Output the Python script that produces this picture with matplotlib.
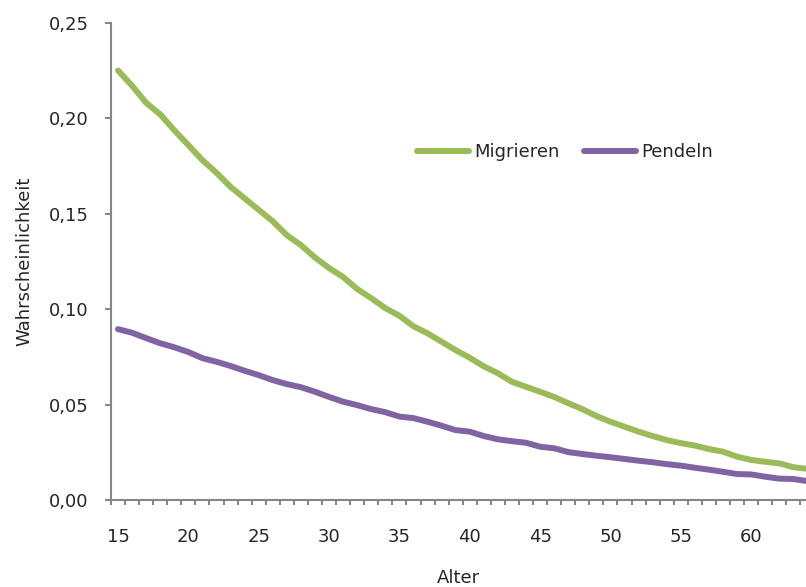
import matplotlib.pyplot as plt
import numpy as np
from matplotlib.ticker import FuncFormatter, MultipleLocator

plt.rcParams["font.family"] = ["DejaVu Sans"]

ages = np.arange(15, 65)
migrieren = [
    0.225, 0.217, 0.208, 0.202, 0.1937, 0.1859, 0.178, 0.1714, 0.164, 0.158,
    0.152, 0.146, 0.1387, 0.1335, 0.127, 0.1215, 0.1168, 0.1105, 0.1057, 0.1005,
    0.0965, 0.091, 0.0873, 0.0829, 0.0785, 0.0745, 0.070, 0.0664, 0.0619, 0.0593,
    0.0567, 0.054, 0.0507, 0.0476, 0.044, 0.041, 0.0384, 0.0358, 0.0335, 0.0314,
    0.0298, 0.0285, 0.0267, 0.0253, 0.0227, 0.021, 0.020, 0.0192, 0.0172, 0.0163,
]
pendeln = [
    0.0895, 0.0876, 0.0848, 0.0821, 0.080, 0.0775, 0.0743, 0.0724, 0.0702, 0.0677,
    0.0654, 0.0628, 0.0607, 0.0591, 0.0567, 0.054, 0.0515, 0.0497, 0.0476, 0.046,
    0.0437, 0.0429, 0.041, 0.0389, 0.0366, 0.0358, 0.0335, 0.0318, 0.0308, 0.030,
    0.0279, 0.0271, 0.0251, 0.0241, 0.0232, 0.0224, 0.0215, 0.0206, 0.0198, 0.0188,
    0.018, 0.0169, 0.0159, 0.0148, 0.0136, 0.0134, 0.0122, 0.0112, 0.011, 0.0099,
]

GREEN = "#9BBB59"
PURPLE = "#8064A2"
AXIS = "#868686"
TEXT = "#262626"
FS = 13

fig = plt.figure(figsize=(8.06, 5.87), dpi=100)
ax = fig.add_axes([0.1377, 0.1482, 0.8623, 0.8131])

ax.plot(ages, migrieren, color=GREEN, lw=4.3, solid_capstyle="round", label="Migrieren")
ax.plot(ages, pendeln, color=PURPLE, lw=4.3, solid_capstyle="round", label="Pendeln")

ax.set_xlim(14.5, 63.9)
ax.set_ylim(0, 0.25)

for side in ("top", "right"):
    ax.spines[side].set_visible(False)
for side in ("left", "bottom"):
    ax.spines[side].set_color(AXIS)
    ax.spines[side].set_linewidth(1.5)

ax.yaxis.set_major_locator(MultipleLocator(0.05))
ax.yaxis.set_major_formatter(FuncFormatter(lambda v, p: f"{v:.2f}".replace(".", ",")))
ax.tick_params(axis="y", length=4.5, width=1.5, color=AXIS, pad=11.5,
               labelsize=FS, labelcolor=TEXT)

# category axis: ticks between years, labels every 5 years
ax.set_xticks(np.arange(15, 61, 5))
ax.set_xticks(np.arange(14.5, 64, 1), minor=True)
ax.tick_params(axis="x", which="major", length=0, pad=20, labelsize=FS, labelcolor=TEXT)
ax.tick_params(axis="x", which="minor", length=3.6, width=1.5, color=AXIS)

ax.set_ylabel("Wahrscheinlichkeit", fontsize=FS, color=TEXT, labelpad=11)
ax.set_xlabel("Alter", fontsize=FS, color=TEXT, labelpad=17)

ax.legend(loc="center", bbox_to_anchor=(0.653, 0.729), ncol=2, frameon=False,
          fontsize=FS, handlelength=2.9, handletextpad=0.28, columnspacing=1.33,
          labelcolor=TEXT)

fig.savefig("out.png", dpi=100)
